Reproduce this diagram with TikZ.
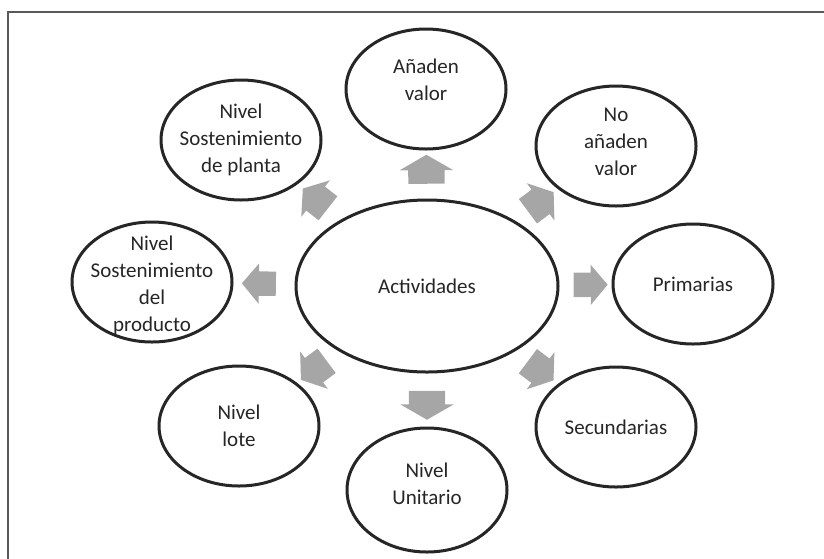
\documentclass[tikz,border=0pt]{standalone}
\usepackage{fontspec}
\setmainfont{Carlito}
\usetikzlibrary{shapes.geometric,shapes.arrows}

\begin{document}
\begin{tikzpicture}[x=1pt,y=-1pt,
                bubble/.style={ellipse,draw=black!85,line width=3pt,fill=white,inner sep=0pt,
                               minimum width=160pt,minimum height=120pt},
                words/.style={align=center,text=black!85,font=\fontsize{21}{27}\selectfont},
                garrow/.style={single arrow,fill=black!35,draw=none,inner xsep=0pt,
                               midway,sloped,allow upside down},
                varrow/.style={garrow,minimum height=29pt,inner ysep=18pt,
                               single arrow head extend=8.5pt,single arrow tip angle=120},
                harrow/.style={garrow,minimum height=34pt,inner ysep=12pt,
                               single arrow head extend=8pt,single arrow tip angle=100},
                darrow/.style={garrow,minimum height=32pt,inner ysep=15pt,
                               single arrow head extend=8pt,single arrow tip angle=110}]
                \useasboundingbox (0,0) rectangle (824,558);
                \clip (0,0) rectangle (824,558);
                \draw[line width=2.5pt,draw=black!65] (8,12) rectangle (850,590);

                % centre
                \node[bubble,minimum width=262pt,minimum height=172pt] (act) at (427,286) {};
                \node[words] (act-t) at (act) {Actividades};

                % satellites
                \node[bubble] (top) at (426,89) {};
                \node[bubble] (noagr) at (616,146) {};
                \node[bubble] (prim) at (693,284) {};
                \node[bubble] (sec) at (616,427) {};
                \node[bubble,minimum height=124pt] (unit) at (427,490) {};
                \node[bubble] (lote) at (239,426) {};
                \node[bubble] (prod) at (152,282) {};
                \node[bubble] (planta) at (241,140) {};

                \node[words] (top-t) at ([yshift=9pt]top) {Añaden\\valor};
                \node[words] (noagr-t) at ([yshift=4pt]noagr) {No\\añaden\\valor};
                \node[words] (prim-t) at (prim) {Primarias};
                \node[words] (sec-t) at (sec) {Secundarias};
                \node[words] (unit-t) at ([yshift=6pt]unit) {Nivel\\Unitario};
                \node[words] (lote-t) at (lote) {Nivel\\lote};
                \node[words] (prod-t) at ([yshift=-3pt]prod) {Nivel\\Sostenimiento\\del\\producto};
                \node[words] (planta-t) at (planta) {Nivel\\Sostenimiento\\de planta};

                % block arrows
                \path (act) -- (top) node[varrow] (a-top) {};
                \path (act) -- (unit) node[varrow] (a-unit) {};
                \path (act) -- (prim) node[harrow] (a-prim) {};
                \path (act) -- (prod) node[harrow] (a-prod) {};
                \path (act) -- (noagr) node[darrow] (a-noagr) {};
                \path (act) -- (sec) node[darrow] (a-sec) {};
                \path (act) -- (lote) node[darrow] (a-lote) {};
                \path (act) -- (planta) node[darrow] (a-planta) {};
            \end{tikzpicture}
\end{document}
